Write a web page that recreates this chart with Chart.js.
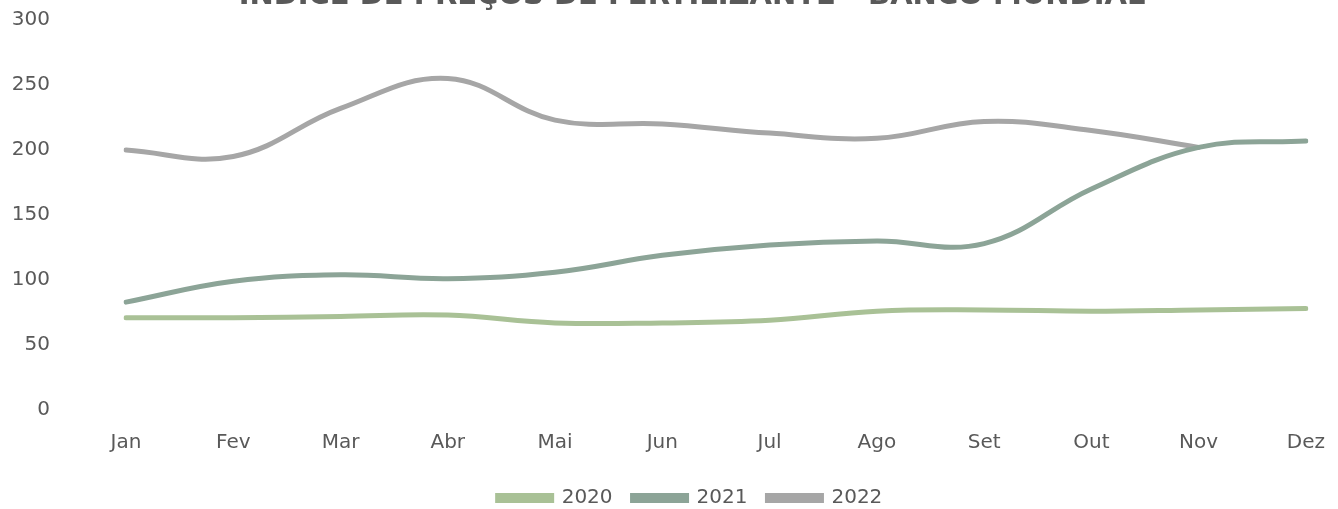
<!DOCTYPE html>
<html>
<head>
<meta charset="utf-8">
<script src="https://cdn.jsdelivr.net/npm/chart.js@4.4.0/dist/chart.umd.min.js"></script>
<style>
  html, body { margin: 0; padding: 0; background: #fff; overflow: hidden; }
  #wrap { position: absolute; left: 0; width: 1338px; }
</style>
</head>
<body>
<div id="wrap" style="top: -60px; height: 570px;"><canvas id="myChart"></canvas></div>
<script>
const meses = ["Jan", "Fev", "Mar", "Abr", "Mai", "Jun", "Jul", "Ago", "Set", "Out", "Nov", "Dez"];
const v2020 = [71, 71, 72, 73, 67, 67, 69, 76, 77, 76, 77, 78];
const v2021 = [83, 99, 104, 101, 106, 119, 127, 130, 128, 170, 202, 207];
const v2022 = [200, 195, 232, 255, 223, 220, 213, 209, 222, 215, 202, null];
const yTicks = [0, 50, 100, 150, 200, 250, 300];

const texto = "#595959";
Chart.defaults.font.family = "'DejaVu Sans', sans-serif";
Chart.defaults.color = texto;

const serie = (label, data, cor) => ({
  label: label,
  data: data,
  borderColor: cor,
  backgroundColor: cor,
  borderWidth: 5,
  borderCapStyle: "round",
  pointRadius: 0,
  tension: 0.4,
  fill: false,
});

// titulo e legenda do original ficam centrados um pouco a direita do canvas
const centrar = {
  id: "centrar",
  afterLayout: (chart) => {
    const t = chart.titleBlock;
    if (t) t.left = 2 * 692 - t.right;
    const l = chart.legend;
    if (l) {
      const d = 690 - (l.left + l.right) / 2;
      l.left += d;
      l.right += d;
    }
  },
};

var ctx = document.getElementById("myChart");

var grafico = new Chart(ctx, {
  type: "line",
  data: {
    labels: meses,
    datasets: [
      serie("2020", v2020, "#A9C196"),
      serie("2021", v2021, "#8CA497"),
      serie("2022", v2022, "#A6A6A6"),
    ],
  },
  options: {
    responsive: true,
    maintainAspectRatio: false,
    animation: false,
    layout: { padding: { left: 0, right: 26, top: 0, bottom: 6 } },
    plugins: {
      title: {
        display: true,
        text: "ÍNDICE DE PREÇOS DE FERTILIZANTE - BANCO MUNDIAL",
        color: texto,
        font: { size: 29, weight: "bold" },
        padding: { top: 0, bottom: 6 },
      },
      legend: {
        position: "bottom",
        labels: {
          boxWidth: 54,
          boxHeight: 5,
          padding: 20,
          font: { size: 20 },
          color: texto,
        },
      },
      tooltip: { enabled: false },
    },
    scales: {
      x: {
        grid: { display: false },
        border: { display: false },
        ticks: { font: { size: 20 }, padding: 13 },
      },
      y: {
        min: 0,
        max: 300,
        grid: { display: false },
        border: { display: false },
        afterBuildTicks: (axis) => {
          axis.ticks = yTicks.map((v) => ({ value: v }));
        },
        afterFit: (axis) => {
          axis.width = 126;
        },
        ticks: { font: { size: 20 }, padding: 68 },
      },
    },
  },
  plugins: [centrar],
});

// encaixa a area do grafico em y 20..410 e x 126..1308 da janela
const wrap = document.getElementById("wrap");
for (let k = 0; k < 3; k++) {
  const a = grafico.chartArea;
  const h = parseFloat(wrap.style.height);
  const novoTopo = 20 - a.top;
  const novaAltura = h + (410 - (novoTopo + a.bottom));
  wrap.style.top = novoTopo + "px";
  wrap.style.height = novaAltura + "px";
  grafico.options.layout.padding.right += a.right - 1308;
  grafico.resize();
  grafico.update();
}
</script>
</body>
</html>
